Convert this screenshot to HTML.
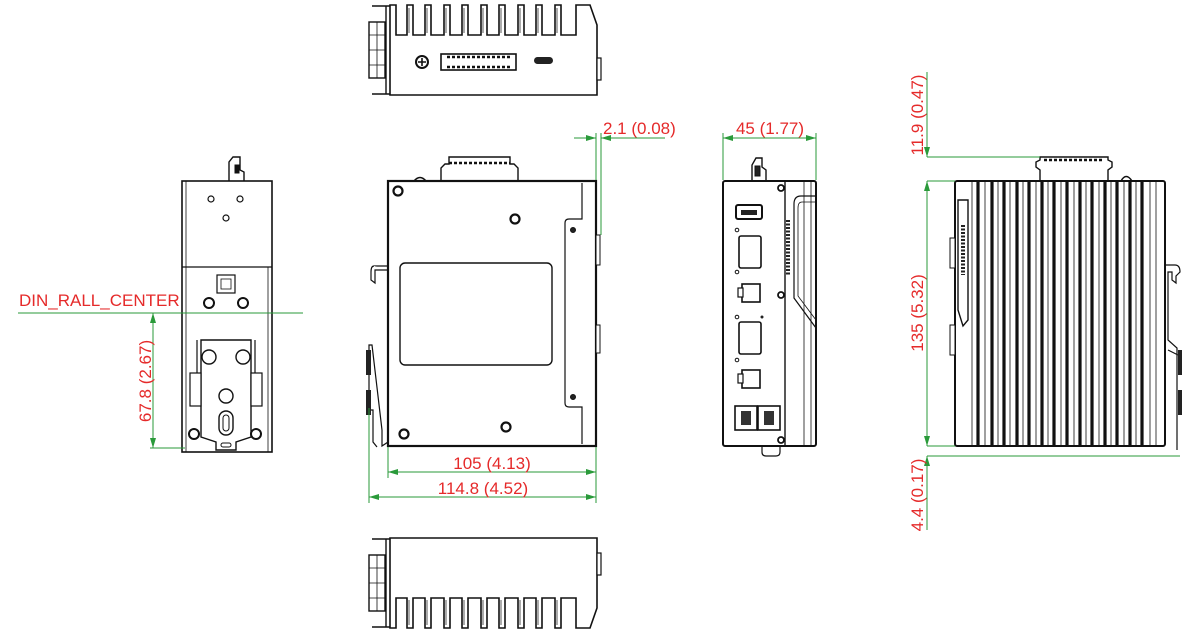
<!DOCTYPE html>
<html><head><meta charset="utf-8"><style>
html,body{margin:0;padding:0;background:#fff;}
svg{display:block;}
text{font-family:"Liberation Sans",sans-serif;font-size:17px;fill:#e52a2a;}
</style></head><body>
<svg width="1200" height="630" viewBox="0 0 1200 630" xmlns="http://www.w3.org/2000/svg">
<defs>
<marker id="ar" viewBox="0 0 10 6" refX="10" refY="3" markerWidth="10" markerHeight="6" orient="auto-start-reverse" markerUnits="userSpaceOnUse"><path d="M0,0 L10,3 L0,6 Z" fill="#2a9a3a"/></marker>
<g id="topv">
  <path d="M390,95 V5 H396 V35 H407 V5 H413 V35 H425 V5 H431 V35 H444 V5 H450 V35 H462 V5 H468 V35 H481 V5 H487 V35 H499 V5 H505 V35 H518 V5 H524 V35 H536 V5 H542 V35 H555 V5 H561 V35 H576 V5 H590 L597,25 V95 Z" fill="#fff" stroke="#111" stroke-width="1.6"/>
  <path d="M409,8 V33 M427,8 V33 M446,8 V33 M464,8 V33 M483,8 V33 M501,8 V33 M520,8 V33 M538,8 V33 M557,8 V33" stroke="#111" stroke-width="0.7"/>
  <path d="M372,6 H390 M372,94 H390 M386,6 V94" stroke="#111" stroke-width="1.4" fill="none"/>
  <rect x="369" y="22" width="16" height="56" fill="#fff" stroke="#111" stroke-width="1.4"/>
  <path d="M369,35 H385 M369,50 H385 M369,65 H385 M377,22 V78" stroke="#111" stroke-width="0.8"/>
  <rect x="597" y="58" width="4" height="22" fill="#fff" stroke="#111" stroke-width="1.2"/>
</g>
</defs>

<!-- TOP & BOTTOM VIEWS -->
<use href="#topv"/>
<use href="#topv" transform="translate(0,633) scale(1,-1)"/>
<g>
  <circle cx="422" cy="62" r="6" fill="#fff" stroke="#111" stroke-width="2"/>
  <path d="M418,62 H426 M422,58 V66" stroke="#111" stroke-width="1.6"/>
  <rect x="441" y="54" width="75" height="16" fill="#fff" stroke="#111" stroke-width="1.6"/>
  <path d="M447,57 H510 M447,67 H510" stroke="#111" stroke-width="2.5" stroke-dasharray="3,2"/>
  <rect x="534" y="57" width="19" height="7" rx="3.5" fill="#222"/>
</g>

<!-- LEFT VIEW -->
<g stroke="#111" fill="#fff">
  <path d="M229,181 V162 L233,157 H240 V170 L244,172 V181" stroke-width="1.4"/>
  <rect x="235" y="165" width="4" height="8" fill="#111"/>
  <rect x="182" y="181" width="90" height="271" stroke-width="1.6"/>
  <line x1="182" y1="267" x2="272" y2="267" stroke-width="1.2"/>
  <line x1="186" y1="181" x2="186" y2="452" stroke-width="0.8"/>
  <line x1="268" y1="267" x2="268" y2="452" stroke-width="0.8"/>
  <circle cx="211" cy="199" r="3" stroke-width="1.2"/><circle cx="240" cy="199" r="3" stroke-width="1.2"/><circle cx="226" cy="218" r="3" stroke-width="1.2"/>
  <rect x="217" y="275" width="18" height="18" stroke-width="1.2"/>
  <rect x="221" y="279" width="10" height="10" stroke-width="0.8"/>
  <circle cx="209" cy="303" r="5" stroke-width="2"/><circle cx="243" cy="303" r="5" stroke-width="2"/>
  <path d="M201,340 V437 L216,442 V450 H236 V442 L251,437 V340 Z" stroke-width="1.4"/>
  <path d="M197,340 V375 M255,340 V375" stroke-width="1.2"/>
  <rect x="190" y="373" width="11" height="33" stroke-width="1.2"/><rect x="251" y="373" width="11" height="33" stroke-width="1.2"/>
  <circle cx="209" cy="357" r="7" stroke-width="1.4"/><circle cx="243" cy="357" r="7" stroke-width="1.4"/>
  <circle cx="226" cy="396" r="7" stroke-width="1.4"/>
  <rect x="219" y="411" width="14" height="24" rx="7" stroke-width="1.4"/>
  <rect x="223" y="415" width="6" height="16" rx="3" stroke-width="1"/>
  <circle cx="194" cy="434" r="5" stroke-width="2"/><circle cx="256" cy="434" r="5" stroke-width="2"/>
  <rect x="221" y="443" width="10" height="4" rx="2" stroke-width="1"/>
</g>

<!-- FRONT VIEW -->
<g stroke="#111" fill="#fff">
  <path d="M441,181 V168 L445,164 H449 V157 H510 V164 H514 L518,168 V181" stroke-width="1.4"/>
  <path d="M449,163 H510" stroke="#111" stroke-width="2.5" stroke-dasharray="3,2"/>
  <path d="M414,181 Q420,174 426,181" stroke-width="1.4"/>
  <path d="M374,266 H388 V442 L382,446 V430 L372,345 L369,345 V410 L373,410 V442 L377,447" stroke-width="1.2"/>
  <path d="M374,266 Q371,266 371,272 V280 L375,283 L375,270 L388,270" stroke-width="1.2"/>
  <rect x="366" y="350" width="5" height="25" fill="#222" stroke="none"/>
  <rect x="366" y="390" width="5" height="25" fill="#222" stroke="none"/>
  <rect x="388" y="181" width="208" height="265" stroke-width="2.2"/>
  <path d="M582,183 V219 H569 Q565,219 565,223 V403 Q565,407 569,407 H582 V444" stroke-width="1.2" fill="none"/>
  <rect x="400" y="263" width="152" height="102" rx="5" stroke-width="1.4"/>
  <circle cx="398" cy="191" r="4.5" stroke-width="2.2"/><circle cx="515" cy="219" r="4.5" stroke-width="2.2"/>
  <circle cx="404" cy="434" r="4.5" stroke-width="2.2"/><circle cx="506" cy="427" r="4.5" stroke-width="2.2"/>
  <circle cx="573" cy="230" r="2.5" fill="#222"/><circle cx="573" cy="397" r="2.5" fill="#222"/>
  <rect x="596" y="235" width="4" height="30" fill="#fff" stroke-width="1"/>
  <rect x="596" y="325" width="4" height="28" fill="#fff" stroke-width="1"/>
</g>

<!-- SIDE (FRONT PANEL) VIEW -->
<g stroke="#111" fill="#fff">
  <path d="M752,181 V165 L756,158 H762 V167 L766,170 V181" stroke-width="1.4"/>
  <rect x="755" y="166" width="5" height="10" fill="#222"/>
  <path d="M762,446 V452 Q762,456 766,456 H776 Q780,456 780,452 V446" stroke-width="1.2"/>
  <rect x="723" y="181" width="93" height="265" rx="2" stroke-width="2"/>
  <line x1="785" y1="182" x2="785" y2="445" stroke-width="1.4"/>
  <line x1="804" y1="182" x2="804" y2="445" stroke-width="0.8"/>
  <line x1="811" y1="182" x2="811" y2="445" stroke-width="0.8"/>
  <path d="M816,196 H801 Q794,196 794,204 V298 L816,328" stroke-width="1.2" fill="none"/>
  <path d="M816,202 H802 Q798,202 798,208 V296 L816,320" stroke-width="0.8" fill="none"/>
  <path d="M788,220 V275" stroke="#222" stroke-width="4" stroke-dasharray="2,1.5"/>
  <circle cx="781" cy="188" r="3" stroke-width="1.8"/><circle cx="781" cy="295" r="3" stroke-width="1.8"/><circle cx="781" cy="440" r="3" stroke-width="1.8"/>
  <rect x="736" y="205" width="26" height="14" rx="2" stroke-width="2"/>
  <rect x="741" y="210" width="16" height="5" fill="#222" stroke="none"/>
  <circle cx="737" cy="230" r="1.8" stroke-width="1"/><circle cx="737" cy="272" r="1.8" stroke-width="1"/>
  <rect x="739" y="236" width="22" height="32" rx="2" stroke-width="1.6"/>
  <rect x="742" y="284" width="18" height="18" stroke-width="1.6"/><rect x="738" y="288" width="5" height="9" stroke-width="1.2"/>
  <circle cx="737" cy="317" r="1.8" stroke-width="1"/><circle cx="762" cy="317" r="1.5" fill="#222" stroke="none"/><circle cx="737" cy="360" r="1.8" stroke-width="1"/>
  <rect x="739" y="322" width="22" height="32" rx="2" stroke-width="1.6"/>
  <rect x="742" y="370" width="18" height="18" stroke-width="1.6"/><rect x="738" y="374" width="5" height="9" stroke-width="1.2"/>
  <rect x="735" y="406" width="22" height="24" stroke-width="1.6"/><rect x="758" y="406" width="22" height="24" stroke-width="1.6"/>
  <rect x="741" y="411" width="10" height="14" fill="#333" stroke="none"/><rect x="764" y="411" width="10" height="14" fill="#333" stroke="none"/>
</g>

<!-- RIGHT VIEW -->
<g stroke="#111" fill="#fff">
  <path d="M1040,181 V170 L1036,167 V162 L1040,160 V157 H1108 V160 L1112,162 V167 L1108,170 V181" stroke-width="1.4"/>
  <path d="M1044,160 H1104" stroke-width="2.5" stroke-dasharray="3,2"/>
  <path d="M1121,181 Q1126,172 1132,181" stroke-width="1.4"/>
  <rect x="955" y="181" width="210" height="265" rx="2" stroke-width="2"/>
  <path d="M1165,265 H1175 Q1180,265 1180,272 L1176,276 V283 L1172,280 V272 H1168 V340 L1177,348 V450 M1168,350 L1178,355" stroke-width="1.2" fill="none"/>
  <rect x="1178" y="350" width="4" height="25" fill="#222" stroke="none"/>
  <rect x="1178" y="390" width="4" height="25" fill="#222" stroke="none"/>
  <path d="M958,200 H968 V320 L963,326 L958,310 Z" stroke-width="1.4"/>
  <path d="M963,225 V275" stroke="#222" stroke-width="4" stroke-dasharray="2,1.5"/>
  <rect x="950" y="238" width="5" height="30" stroke-width="1"/><rect x="950" y="325" width="5" height="30" stroke-width="1"/>
  <g stroke="#111" stroke-width="3.2">
    <line x1="978" y1="182" x2="978" y2="445"/><line x1="992" y1="182" x2="992" y2="445"/>
    <line x1="1004" y1="182" x2="1004" y2="445"/><line x1="1017" y1="182" x2="1017" y2="445"/>
    <line x1="1029" y1="182" x2="1029" y2="445"/><line x1="1042" y1="182" x2="1042" y2="445"/>
    <line x1="1054" y1="182" x2="1054" y2="445"/><line x1="1067" y1="182" x2="1067" y2="445"/>
    <line x1="1080" y1="182" x2="1080" y2="445"/><line x1="1092" y1="182" x2="1092" y2="445"/>
    <line x1="1105" y1="182" x2="1105" y2="445"/><line x1="1117" y1="182" x2="1117" y2="445"/>
    <line x1="1130" y1="182" x2="1130" y2="445"/><line x1="1142" y1="182" x2="1142" y2="445"/>
  </g>
  <g stroke-width="0.8">
    <line x1="972" y1="182" x2="972" y2="445"/><line x1="985" y1="182" x2="985" y2="445"/>
    <line x1="998" y1="182" x2="998" y2="445"/><line x1="1010" y1="182" x2="1010" y2="445"/>
    <line x1="1023" y1="182" x2="1023" y2="445"/><line x1="1036" y1="182" x2="1036" y2="445"/>
    <line x1="1048" y1="182" x2="1048" y2="445"/><line x1="1061" y1="182" x2="1061" y2="445"/>
    <line x1="1074" y1="182" x2="1074" y2="445"/><line x1="1086" y1="182" x2="1086" y2="445"/>
    <line x1="1099" y1="182" x2="1099" y2="445"/><line x1="1111" y1="182" x2="1111" y2="445"/>
    <line x1="1124" y1="182" x2="1124" y2="445"/><line x1="1136" y1="182" x2="1136" y2="445"/>
    <line x1="1150" y1="182" x2="1150" y2="445"/><line x1="1156" y1="182" x2="1156" y2="445"/>
  </g>
</g>

<!-- DIMENSIONS -->
<g stroke="#2a9a3a" stroke-width="1" fill="none">
  <line x1="18" y1="313" x2="303" y2="313"/>
  <line x1="150" y1="448" x2="185" y2="448"/>
  <line x1="153" y1="313" x2="153" y2="448" marker-start="url(#ar)" marker-end="url(#ar)"/>
  <line x1="388" y1="447" x2="388" y2="478"/>
  <line x1="369" y1="408" x2="369" y2="503"/>
  <line x1="596" y1="447" x2="596" y2="503"/>
  <line x1="388" y1="472" x2="596" y2="472" marker-start="url(#ar)" marker-end="url(#ar)"/>
  <line x1="369" y1="497" x2="596" y2="497" marker-start="url(#ar)" marker-end="url(#ar)"/>
  <line x1="596" y1="133" x2="596" y2="180"/>
  <line x1="601" y1="133" x2="601" y2="235"/>
  <line x1="574" y1="138" x2="596" y2="138" marker-end="url(#ar)"/>
  <line x1="601" y1="138" x2="665" y2="138" marker-start="url(#ar)"/>
  <line x1="723" y1="133" x2="723" y2="180"/>
  <line x1="816" y1="133" x2="816" y2="180"/>
  <line x1="723" y1="138" x2="816" y2="138" marker-start="url(#ar)" marker-end="url(#ar)"/>
  <line x1="927" y1="72" x2="927" y2="157" marker-end="url(#ar)"/>
  <line x1="927" y1="181" x2="927" y2="446" marker-start="url(#ar)" marker-end="url(#ar)"/>
  <line x1="927" y1="456" x2="927" y2="530" marker-start="url(#ar)"/>
  <line x1="927" y1="157" x2="1040" y2="157"/>
  <line x1="927" y1="181" x2="955" y2="181"/>
  <line x1="927" y1="446" x2="955" y2="446"/>
  <line x1="927" y1="456" x2="1180" y2="456"/>
</g>
<text x="19" y="306">DIN_RALL_CENTER</text>
<text transform="translate(151,381) rotate(-90)" text-anchor="middle">67.8 (2.67)</text>
<text x="492" y="469" text-anchor="middle">105 (4.13)</text>
<text x="483" y="494" text-anchor="middle">114.8 (4.52)</text>
<text x="603" y="134">2.1 (0.08)</text>
<text x="770" y="134" text-anchor="middle">45 (1.77)</text>
<text transform="translate(923,115) rotate(-90)" text-anchor="middle">11.9 (0.47)</text>
<text transform="translate(923,313) rotate(-90)" text-anchor="middle">135 (5.32)</text>
<text transform="translate(923,495) rotate(-90)" text-anchor="middle">4.4 (0.17)</text>
</svg>
</body></html>
